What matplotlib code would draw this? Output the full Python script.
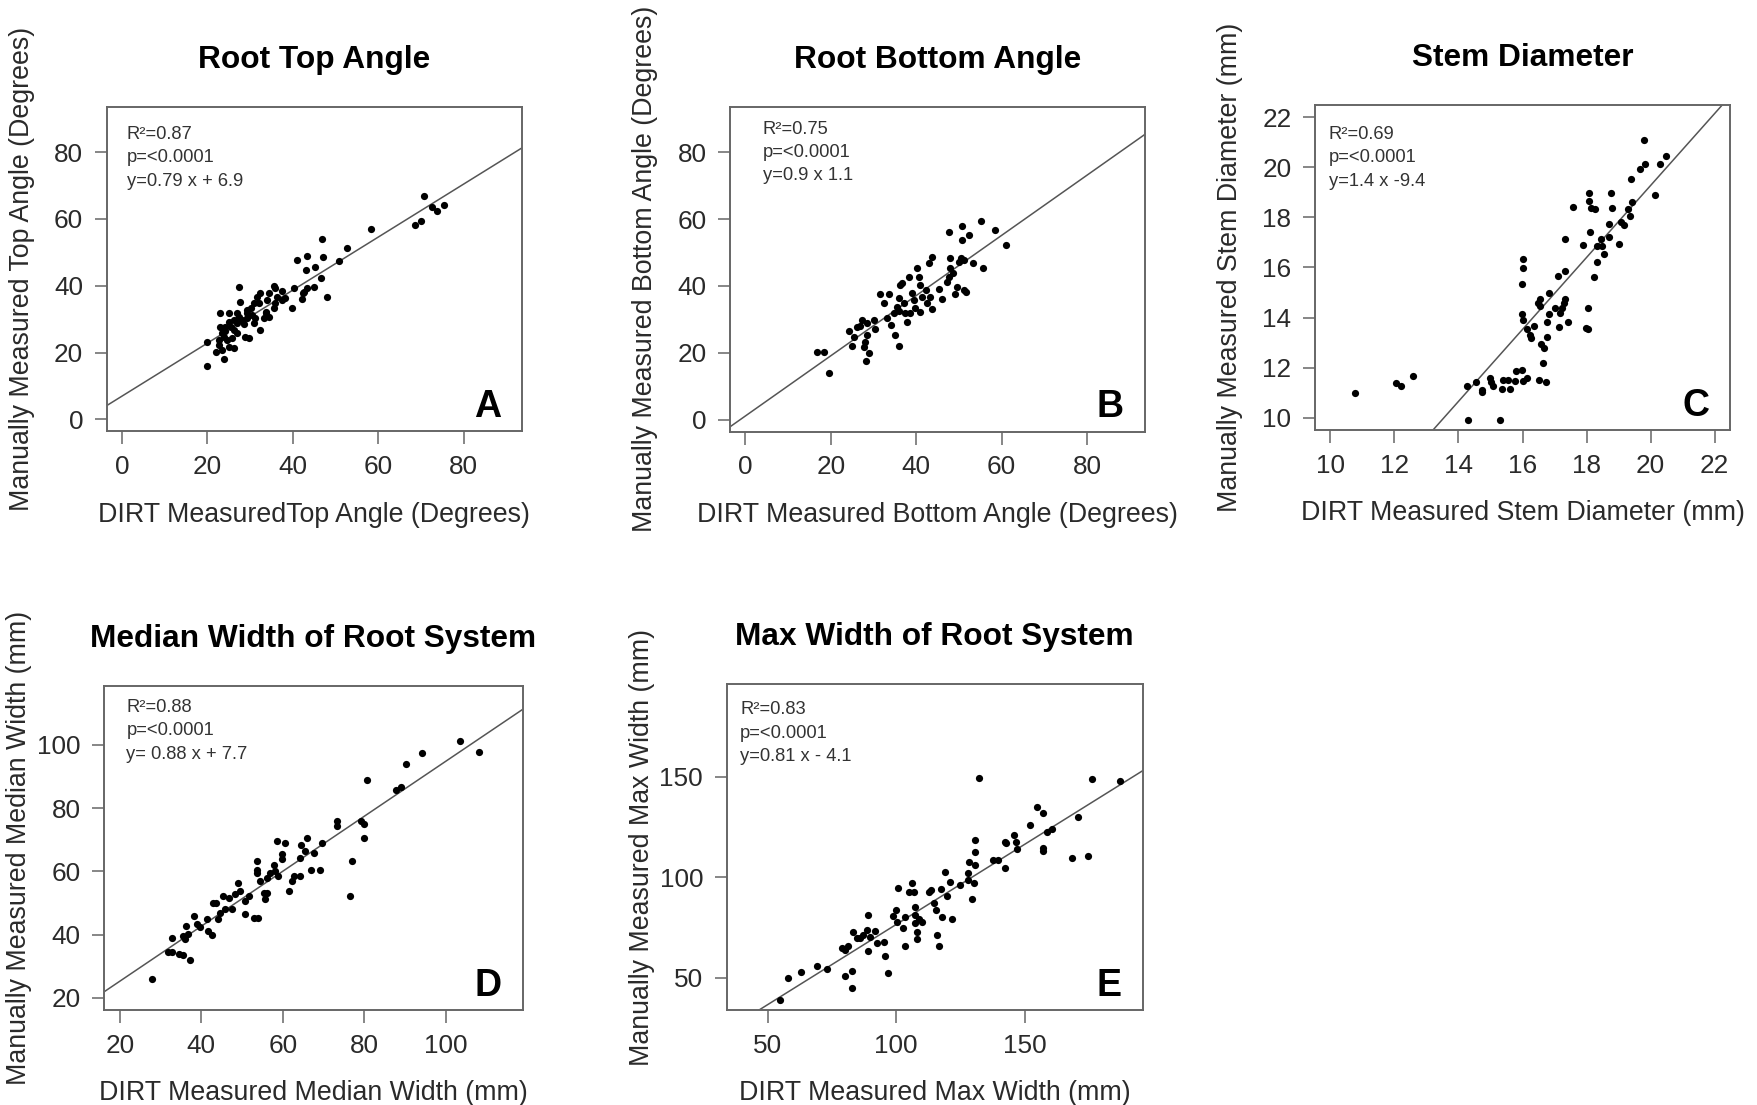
import matplotlib
matplotlib.use('Agg')
import matplotlib.pyplot as plt
from matplotlib.transforms import ScaledTranslation

plt.rcParams['font.family'] = ['Liberation Sans', 'DejaVu Sans']

# ---------------- data ----------------
titles = ['Root Top Angle', 'Root Bottom Angle', 'Stem Diameter',
          'Median Width of Root System', 'Max Width of Root System']
xlabels = ['DIRT MeasuredTop Angle (Degrees)', 'DIRT Measured Bottom Angle (Degrees)',
           'DIRT Measured Stem Diameter (mm)', 'DIRT Measured Median Width (mm)',
           'DIRT Measured Max Width (mm)']
ylabels = ['Manually Measured Top Angle (Degrees)', 'Manually Measured Bottom Angle (Degrees)',
           'Manually Measured Stem Diameter (mm)', 'Manually Measured Median Width (mm)',
           'Manually Measured Max Width (mm)']
stat_r2 = ['R\u00b2=0.87', 'R\u00b2=0.75', 'R\u00b2=0.69', 'R\u00b2=0.88', 'R\u00b2=0.83']
stat_p = ['p=<0.0001'] * 5
stat_eq = ['y=0.79 x + 6.9', 'y=0.9 x 1.1', 'y=1.4 x -9.4', 'y= 0.88 x + 7.7', 'y=0.81 x - 4.1']
letters = ['A', 'B', 'C', 'D', 'E']
fit_slope = [0.793, 0.9, 1.435, 0.87, 0.796]
fit_intercept = [7.0, 1.1, -9.43, 7.9, -3.1]
axis_min = [0, 0, 10, 20, 40]
axis_max = [90, 90, 22, 115, 190]
ticks = [[0, 20, 40, 60, 80], [0, 20, 40, 60, 80], [10, 12, 14, 16, 18, 20, 22],
         [20, 40, 60, 80, 100], [50, 100, 150]]

a_x = [70.6, 72.6, 73.8, 75.5, 69.9, 68.7, 58.2, 52.7, 50.7, 46.8, 47.1, 43.3, 41.0, 43.1, 45.1,
       46.5, 48.0, 44.9, 43.2, 42.7, 42.2, 40.2, 39.8, 38.2, 37.5, 36.3, 35.5, 35.9, 34.3, 34.0,
       35.5, 35.9, 33.6, 33.2, 32.4, 31.6, 32.0, 30.8, 30.1, 29.3, 31.2, 29.3, 32.2, 27.3, 27.7,
       26.9, 26.1, 27.3, 28.1, 25.0, 25.0, 25.4, 26.1, 26.9, 24.2, 23.0, 23.0, 23.4, 23.8, 22.6,
       24.6, 25.8, 28.9, 29.7, 26.1, 25.0, 22.6, 21.9, 23.4, 23.8, 19.9, 19.8, 29.3, 30.4, 33.7,
       34.3, 37.5, 42.3, 28.5, 30.9, 27.0, 24.0]
a_y = [66.8, 63.6, 62.3, 64.3, 59.3, 58.3, 57.0, 51.3, 47.3, 54.0, 48.5, 48.8, 47.8, 44.6, 45.5,
       42.3, 36.8, 39.5, 39.3, 38.0, 36.1, 39.3, 33.3, 36.3, 38.3, 36.8, 40.0, 39.3, 37.8, 35.8,
       33.3, 34.8, 32.3, 30.3, 37.8, 36.8, 34.8, 34.8, 33.3, 32.8, 30.3, 30.3, 26.8, 39.6, 35.3,
       31.8, 29.8, 30.8, 29.8, 31.8, 29.3, 27.8, 26.8, 25.8, 27.8, 31.8, 27.8, 25.8, 24.8, 23.8,
       23.8, 24.3, 24.8, 24.3, 21.3, 21.8, 22.3, 20.3, 20.8, 18.0, 23.3, 16.1, 31.8, 31.3, 31.8,
       30.8, 35.8, 37.8, 28.5, 29.0, 28.8, 26.5]

b_x = [16.8, 18.3, 19.5, 24.2, 25.4, 25.0, 26.2, 27.3, 26.9, 28.5, 28.1, 27.7, 28.9, 28.3, 28.5,
       30.2, 30.4, 31.6, 33.6, 32.4, 33.2, 34.0, 35.1, 35.9, 34.7, 35.5, 35.9, 36.3, 36.7, 37.1,
       37.5, 37.9, 38.3, 39.0, 39.4, 39.8, 40.2, 40.6, 41.0, 41.4, 41.0, 42.2, 42.6, 42.9, 43.7,
       43.3, 43.7, 45.3, 46.1, 47.2, 47.8, 48.0, 48.0, 48.6, 49.2, 49.6, 50.0, 50.4, 51.1, 51.1,
       51.7, 53.3, 55.7, 47.8, 50.7, 50.7, 52.3, 55.3, 58.5, 61.1, 36.0, 38.6]
b_y = [20.3, 20.3, 14.0, 26.5, 24.8, 22.0, 27.8, 29.8, 28.0, 25.3, 23.3, 21.8, 19.8, 17.5, 28.8,
       29.8, 27.0, 37.5, 37.5, 34.8, 30.3, 28.3, 25.3, 22.1, 31.8, 33.8, 36.3, 40.3, 41.0, 34.8,
       31.8, 29.3, 42.8, 37.8, 35.8, 33.3, 45.5, 42.8, 40.3, 36.8, 32.3, 38.8, 34.8, 47.0, 48.6,
       36.8, 33.0, 39.0, 36.0, 41.3, 42.8, 45.3, 48.3, 43.8, 37.5, 39.8, 47.3, 48.3, 47.8, 38.8,
       38.3, 47.0, 45.3, 56.0, 58.0, 53.6, 55.3, 59.3, 56.8, 52.1, 32.5, 32.0]

c_x = [10.76, 12.04, 12.22, 12.58, 14.27, 14.30, 14.56, 14.72, 14.72, 14.98, 15.03, 15.07, 15.29,
       15.36, 15.39, 15.55, 15.60, 15.76, 15.81, 15.97, 16.02, 16.13, 16.00, 16.00, 15.97, 15.99,
       16.02, 16.13, 16.23, 16.28, 16.35, 16.49, 16.54, 16.54, 16.59, 16.68, 16.65, 16.51, 16.73,
       16.75, 16.77, 16.83, 16.83, 17.01, 17.11, 17.15, 17.17, 17.22, 17.29, 17.32, 17.32, 17.32,
       17.43, 17.58, 17.88, 17.98, 18.05, 18.05, 18.08, 18.08, 18.10, 18.15, 18.25, 18.23, 18.33,
       18.33, 18.44, 18.47, 18.54, 18.71, 18.71, 18.76, 18.78, 19.02, 19.09, 19.18, 19.30, 19.35,
       19.41, 19.39, 19.67, 19.82, 19.80, 20.14, 20.29, 20.48]
c_y = [11.00, 11.40, 11.29, 11.69, 11.29, 9.93, 11.44, 11.13, 11.03, 11.60, 11.44, 11.29, 9.91,
       11.17, 11.53, 11.53, 11.16, 11.47, 11.87, 11.93, 11.47, 11.60, 16.33, 15.97, 15.33, 14.13,
       13.89, 13.53, 13.29, 13.20, 13.67, 14.60, 14.76, 14.47, 12.93, 12.80, 12.20, 11.51, 11.43,
       13.83, 13.24, 14.13, 14.97, 14.40, 15.67, 13.64, 14.17, 14.40, 14.60, 14.73, 15.87, 17.13,
       13.83, 18.40, 16.89, 13.60, 13.53, 14.40, 18.97, 18.67, 17.43, 18.36, 18.33, 15.63, 16.20,
       16.87, 17.13, 16.87, 16.53, 17.20, 17.73, 18.97, 18.36, 16.93, 17.83, 17.69, 18.33, 18.07,
       18.63, 19.53, 19.93, 20.13, 21.07, 18.91, 20.13, 20.43]

d_x = [28.0, 32.7, 31.9, 32.7, 34.4, 35.6, 37.1, 35.6, 36.2, 36.8, 38.3, 38.9, 39.7, 41.3, 41.7,
       42.6, 42.8, 43.6, 44.2, 45.3, 45.8, 46.7, 47.5, 48.3, 49.1, 49.5, 50.8, 50.8, 51.6, 52.8,
       54.0, 53.6, 53.6, 53.6, 54.5, 55.3, 55.7, 56.1, 56.1, 56.9, 57.7, 58.1, 58.9, 58.6, 59.8,
       59.8, 60.6, 61.4, 62.2, 62.7, 64.3, 64.3, 64.5, 66.0, 65.5, 66.8, 67.6, 69.1, 69.6, 73.2,
       73.3, 76.4, 77.0, 79.1, 79.9, 79.9, 80.5, 87.7, 88.9, 90.1, 94.2, 103.5, 108.0, 36.0, 44.5]
d_y = [26.0, 39.1, 34.4, 34.4, 33.9, 33.5, 32.0, 39.6, 42.8, 40.2, 45.9, 43.3, 42.3, 44.9, 41.2,
       39.9, 50.1, 50.1, 44.9, 52.2, 48.0, 51.7, 48.0, 52.8, 56.2, 53.8, 46.5, 50.7, 52.2, 45.4,
       45.2, 63.3, 60.6, 59.6, 57.0, 53.3, 51.2, 53.3, 58.0, 59.6, 62.2, 60.1, 58.5, 69.6, 65.4,
       63.8, 69.0, 53.8, 57.0, 58.5, 58.5, 64.3, 68.5, 70.6, 66.4, 60.6, 65.9, 60.6, 69.0, 75.9,
       74.3, 52.4, 63.3, 75.9, 75.1, 70.6, 89.0, 85.8, 86.7, 94.0, 97.4, 101.4, 97.9, 38.5, 47.0]

e_x = [54.8, 57.8, 62.8, 69.2, 72.9, 78.8, 80.1, 81.4, 80.1, 82.7, 82.7, 83.3, 84.6, 85.9, 87.0,
       88.6, 89.0, 89.0, 89.9, 91.8, 92.5, 95.1, 95.5, 96.8, 98.6, 100.1, 100.3, 100.9, 102.7, 103.3,
       103.3, 104.9, 106.2, 106.9, 107.3, 107.5, 107.5, 108.2, 108.2, 108.8, 110.1, 112.7, 113.7,
       114.7, 115.4, 115.8, 116.7, 117.3, 118.0, 119.0, 119.9, 121.0, 121.9, 124.9, 127.8, 127.8,
       128.4, 129.7, 130.4, 130.8, 130.8, 132.4, 130.8, 137.6, 139.5, 142.4, 142.2, 142.8, 145.7,
       147.1, 146.5, 152.0, 155.0, 157.2, 157.2, 157.2, 158.9, 160.8, 168.6, 170.7, 174.8, 176.1,
       187.0]
e_y = [39.2, 49.7, 53.0, 56.0, 54.3, 64.6, 63.8, 65.8, 51.0, 53.3, 44.7, 72.9, 69.6, 69.6, 71.2,
       73.7, 81.2, 63.3, 70.4, 73.4, 67.1, 67.9, 60.8, 52.2, 80.7, 83.7, 77.9, 94.4, 74.5, 80.3,
       65.9, 92.8, 96.9, 92.8, 85.3, 81.2, 77.0, 72.9, 69.1, 79.0, 77.9, 92.8, 93.6, 87.0, 83.7,
       71.2, 65.9, 93.9, 80.0, 102.4, 90.6, 97.8, 79.0, 96.1, 98.6, 101.9, 107.7, 89.0, 96.9, 118.5,
       112.7, 149.2, 106.1, 108.5, 108.5, 104.4, 117.7, 116.8, 121.0, 113.8, 117.7, 126.0, 134.7,
       131.7, 114.3, 113.2, 122.6, 124.0, 109.4, 130.1, 110.7, 148.8, 148.0]

xs = [a_x, b_x, c_x, d_x, e_x]
ys = [a_y, b_y, c_y, d_y, e_y]

# ---------------- layout (pixels, origin top-left) ----------------
W, H = 1757, 1105
boxes = [(106.7, 106.7, 521.7, 431.5), (730.0, 106.7, 1145.0, 431.7),
         (1315.0, 105.0, 1730.0, 430.0), (104.3, 685.5, 522.7, 1010.0),
         (726.7, 684.0, 1142.7, 1010.0)]
ann_left = [20, 32.7, 14, 22, 13.3]
ann_top = [26, 20.6, 27.7, 20, 24]

fig = plt.figure(figsize=(W / 100, H / 100), dpi=100)
fig.patch.set_facecolor('white')

TXT = '#2a2a2a'
GRAY = '#666666'

for i in range(5):
    l, t, r, b = boxes[i]
    ax = fig.add_axes([l / W, 1 - b / H, (r - l) / W, (b - t) / H])
    lo, hi = axis_min[i], axis_max[i]
    pad = 0.04 * (hi - lo)
    ax.set_xlim(lo - pad, hi + pad)
    ax.set_ylim(lo - pad, hi + pad)
    ax.set_xticks(ticks[i])
    ax.set_yticks(ticks[i])
    ax.tick_params(axis='both', length=9, width=1.1, color=GRAY, labelsize=18.8,
                   labelcolor=TXT, pad=8)
    for s in ax.spines.values():
        s.set_color(GRAY)
        s.set_linewidth(1.4)
    ax.axline((0, fit_intercept[i]), slope=fit_slope[i], color='#555555', lw=1.1, zorder=2)
    ax.plot(xs[i], ys[i], 'o', color='black', ms=5.2, mew=0, zorder=3)

    ax.set_title(titles[i], fontsize=22.8, fontweight='bold', color='black', pad=28)

    for k, s in enumerate([stat_r2[i], stat_p[i], stat_eq[i]]):
        tr = ax.transAxes + ScaledTranslation(ann_left[i] / 100, -(ann_top[i] + 23.3 * k) / 100,
                                              fig.dpi_scale_trans)
        ax.text(0, 1, s, transform=tr, fontsize=13.2, color='#333333', ha='left',
                va='center_baseline')

    tr = ax.transAxes + ScaledTranslation(-21 / 100, 14.5 / 100, fig.dpi_scale_trans)
    ax.text(1, 0, letters[i], transform=tr, fontsize=27, fontweight='bold', color='black',
            ha='right', va='baseline')

    fig.text((l + r) / 2 / W, 1 - (b + 83) / H, xlabels[i], fontsize=19.3, color=TXT,
             ha='center', va='center')
    fig.text((l - 85) / W, 1 - (t + b) / 2 / H, ylabels[i], fontsize=19.3, color=TXT,
             ha='center', va='center', rotation=90)

fig.savefig('out.png', dpi=100, facecolor='white')
